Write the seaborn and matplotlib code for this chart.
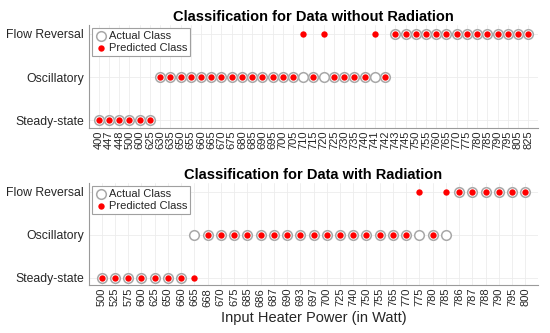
import matplotlib.pyplot as plt
import matplotlib as mpl
import pandas as pd
import seaborn as sns

sns.set_style("white")
plt.rcParams['font.family'] = ['Liberation Sans', 'DejaVu Sans']
mpl.rcParams['axes.unicode_minus'] = False

class_names = ["Steady-state", "Oscillatory", "Flow Reversal"]
code_map = {"S": 0, "O": 1, "F": 2}

# data without radiation
top_power = ["400", "447", "448", "500", "600", "625", "630", "635", "650", "655",
             "660", "665", "670", "675", "680", "685", "690", "695", "700", "705",
             "710", "715", "720", "725", "730", "735", "740", "741", "742", "743",
             "745", "750", "755", "760", "765", "770", "775", "780", "785", "790",
             "795", "805", "825"]
top_actual = list("SSSSSS" "OOOOOOOOOOOOOOOOOOOOOOO" "FFFFFFFFFFFFFF")
top_pred = list("SSSSSS" "OOOOOOOOOOOOOO" "FOFOOOOFO" "FFFFFFFFFFFFFF")

# data with radiation
bot_power = ["500", "525", "575", "600", "625", "650", "660", "665", "668", "670",
             "675", "685", "686", "687", "690", "693", "697", "700", "725", "740",
             "750", "755", "765", "770", "775", "780", "785", "786", "787", "788",
             "790", "795", "800"]
bot_actual = list("SSSSSSS" "OOOOOOOOOOOOOOOOOOOO" "FFFFFF")
bot_pred = list("SSSSSSSS" "OOOOOOOOOOOOOOOO" "FOF" "FFFFFF")

fig = plt.figure(figsize=(5.5, 3.33), dpi=100)
ax1 = fig.add_axes([0.162, 0.616, 0.816, 0.309])
ax2 = fig.add_axes([0.162, 0.144, 0.816, 0.306])


def draw(ax, power, actual, pred, title):
    df = pd.DataFrame({
        "power": power,
        "actual": [code_map[c] for c in actual],
        "pred": [code_map[c] for c in pred],
    })
    sns.scatterplot(data=df, x="power", y="actual", ax=ax, s=48, color="white",
                    edgecolor="#a8a8a8", linewidth=1.1, label="Actual Class", zorder=3)
    sns.scatterplot(data=df, x="power", y="pred", ax=ax, s=21, color="red",
                    linewidth=0, label="Predicted Class", zorder=4)
    n = len(power)
    ax.set_xlim(-0.95, n - 1 + 0.95)
    ax.set_ylim(-0.17, 2.2)
    ax.set_yticks([0, 1, 2])
    ax.set_yticklabels(class_names, fontsize=8.8)
    ax.tick_params(axis="x", labelrotation=90, labelsize=8, pad=2)
    ax.tick_params(direction="in", length=3, color="#999999", width=0.6)
    ax.grid(True, color="#ececec", lw=0.6)
    ax.set_axisbelow(True)
    for s in ["top", "right"]:
        ax.spines[s].set_visible(False)
    for s in ["left", "bottom"]:
        ax.spines[s].set_color("#9a9a9a")
        ax.spines[s].set_linewidth(0.8)
    ax.set_ylabel("")
    ax.set_xlabel("")
    ax.set_title(title, fontsize=10.5, fontweight="bold", pad=3, color="black")
    leg = ax.legend(loc="upper left", fontsize=8, fancybox=False, edgecolor="#a0a0a0",
                    borderpad=0.25, handletextpad=0.05, labelspacing=0.2,
                    borderaxespad=0.25, handlelength=1.2, framealpha=1)
    leg.get_frame().set_linewidth(0.8)


draw(ax1, top_power, top_actual, top_pred, "Classification for Data without Radiation")
draw(ax2, bot_power, bot_actual, bot_pred, "Classification for Data with Radiation")
ax2.set_xlabel("Input Heater Power (in Watt)", fontsize=10.5, labelpad=3)

fig.savefig("out.png", dpi=100)
